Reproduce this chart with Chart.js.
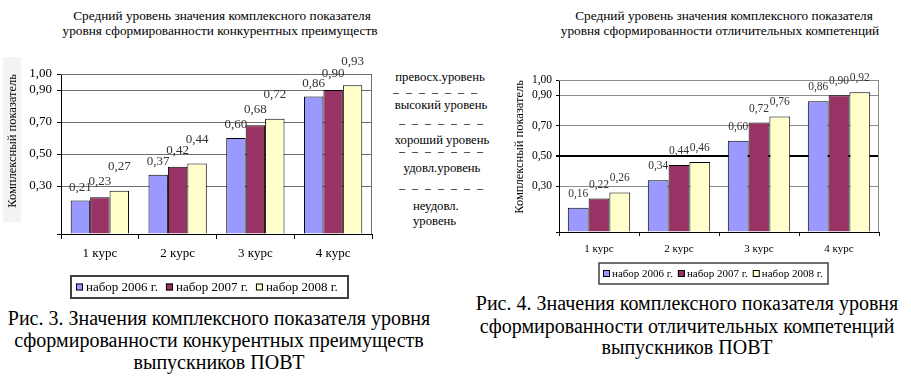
<!DOCTYPE html>
<html lang="ru">

<head>
    <meta charset="UTF-8">
    <title>Комплексный показатель ПОВТ</title>
    <script src="https://cdn.jsdelivr.net/npm/chart.js"></script>
    <style>
        body {
            margin: 0;
            width: 911px;
            height: 384px;
            position: relative;
            overflow: hidden;
            background: #fff;
            font-family: "Liberation Serif", "DejaVu Serif", serif;
            color: #000;
        }

        .txt {
            position: absolute;
            white-space: nowrap;
            transform: translate(-50%, -50%);
        }

        .titulo {
            font-size: 13.3px;
        }

        .nivel {
            font-size: 12.7px;
        }

        .tracos {
            font-size: 12px;
            letter-spacing: 2px;
        }

        .legenda {
            font-size: 20px;
        }

        canvas {
            position: absolute;
        }

        .fundoEixo {
            position: absolute;
            left: 3px;
            top: 57px;
            width: 18px;
            height: 165px;
            background: #f3f3f3;
        }
    </style>
</head>

<body>
    <div class="fundoEixo"></div>

    <!-- titulos dos graficos -->
    <div class="txt titulo" style="left:222px; top:16px">Средний уровень значения комплексного показателя</div>
    <div class="txt titulo" style="left:220px; top:31px">уровня сформированности конкурентных преимуществ</div>
    <div class="txt titulo" style="left:724px; top:16px">Средний уровень значения комплексного показателя</div>
    <div class="txt titulo" style="left:720px; top:31px">уровня сформированности отличительных компетенций</div>

    <!-- niveis entre os graficos -->
    <div class="txt nivel" style="left:440px; top:77px">превосх.уровень</div>
    <div class="txt tracos" style="left:436px; top:92px">– – – – – – –</div>
    <div class="txt nivel" style="left:441px; top:105px">высокий уровень</div>
    <div class="txt tracos" style="left:442px; top:123px">– – – – – – –</div>
    <div class="txt nivel" style="left:442px; top:140px">хороший уровень</div>
    <div class="txt tracos" style="left:442px; top:151px">– – – – – – –</div>
    <div class="txt nivel" style="left:442px; top:168px">удовл.уровень</div>
    <div class="txt tracos" style="left:442px; top:188px">– – – – – – –</div>
    <div class="nivel" style="position:absolute; left:413px; top:199px; line-height:15px">неудовл.<br>уровень</div>

    <canvas id="graficoKonkur" width="380" height="250" style="left:0px; top:55px"></canvas>
    <canvas id="graficoOtlich" width="440" height="235" style="left:460px; top:55px"></canvas>

    <!-- legendas das figuras -->
    <div class="txt legenda" style="left:219px; top:318px">Рис. 3. Значения комплексного показателя уровня</div>
    <div class="txt legenda" style="left:219px; top:340px">сформированности конкурентных преимуществ</div>
    <div class="txt legenda" style="left:219px; top:362px">выпускников ПОВТ</div>
    <div class="txt legenda" style="left:687px; top:303px">Рис. 4. Значения комплексного показателя уровня</div>
    <div class="txt legenda" style="left:687px; top:326px">сформированности отличительных компетенций</div>
    <div class="txt legenda" style="left:687px; top:347px">выпускников ПОВТ</div>
</body>
<script>

    const cursos = ['1 курс', '2 курс', '3 курс', '4 курс'];
    const nabory = ['набор 2006 г.', 'набор 2007 г.', 'набор 2008 г.'];

    // Рис. 3 - конкурентные преимущества
    const konkur2006 = [0.21, 0.37, 0.60, 0.86];
    const konkur2007 = [0.23, 0.42, 0.68, 0.90];
    const konkur2008 = [0.27, 0.44, 0.72, 0.93];

    // Рис. 4 - отличительные компетенции
    const otlich2006 = [0.16, 0.34, 0.60, 0.86];
    const otlich2007 = [0.22, 0.44, 0.72, 0.90];
    const otlich2008 = [0.26, 0.46, 0.76, 0.92];

    const marcasY = [0.3, 0.5, 0.7, 0.9, 1.0];
    const tituloY = 'Комплексный показатель';

    const cores = ['#9999FF', '#993366', '#FFFFCC'];
    const fonteSerif = '"Liberation Serif", "DejaVu Serif", serif';

    function numero(v) {
        return v.toFixed(2).replace('.', ',');
    }

    function marcaVisivel(valor) {
        return marcasY.includes(Math.round(valor * 100) / 100);
    }

    function montarDados(series) {
        return {
            labels: cursos,
            datasets: series.map(function (dados, i) {
                return {
                    label: nabory[i],
                    data: dados,
                    backgroundColor: cores[i],
                    borderColor: '#000',
                    borderWidth: 1,
                    borderSkipped: 'bottom'
                };
            })
        };
    }

    // valores acima das barras
    function criarRotulos(fonte, cor, deslocamentos) {
        return {
            id: 'rotulos',
            afterDatasetsDraw(chart) {
                const ctx = chart.ctx;
                ctx.save();
                ctx.font = fonte;
                ctx.fillStyle = cor;
                ctx.textAlign = 'center';
                ctx.textBaseline = 'middle';
                chart.data.datasets.forEach(function (ds, i) {
                    chart.getDatasetMeta(i).data.forEach(function (barra, j) {
                        ctx.fillText(numero(ds.data[j]), barra.x, barra.y - deslocamentos[i]);
                    });
                });
                ctx.restore();
            }
        };
    }

    // moldura superior e direita da area do grafico
    function criarMoldura(cor, largura) {
        return {
            id: 'moldura',
            beforeDatasetsDraw(chart) {
                const a = chart.chartArea;
                const ctx = chart.ctx;
                ctx.save();
                ctx.strokeStyle = cor;
                ctx.lineWidth = largura;
                ctx.beginPath();
                ctx.moveTo(a.left, a.top + 0.5);
                ctx.lineTo(a.right - 0.5, a.top + 0.5);
                ctx.lineTo(a.right - 0.5, a.bottom);
                ctx.stroke();
                ctx.restore();
            }
        };
    }

    // legenda com caixa, como no original
    function criarLegenda(caixa, fonte, lado, folga, espaco) {
        return {
            id: 'legendaCaixa',
            afterDraw(chart) {
                const ctx = chart.ctx;
                ctx.save();
                ctx.strokeStyle = '#404040';
                ctx.lineWidth = caixa.borda;
                ctx.strokeRect(caixa.x, caixa.y, caixa.w, caixa.h);
                ctx.font = fonte;
                ctx.textBaseline = 'middle';
                ctx.textAlign = 'left';
                let x = caixa.x + caixa.pad;
                const yc = caixa.y + caixa.h / 2;
                chart.data.datasets.forEach(function (ds) {
                    ctx.fillStyle = ds.backgroundColor;
                    ctx.fillRect(x, yc - lado / 2, lado, lado);
                    ctx.strokeStyle = '#000';
                    ctx.lineWidth = 1;
                    ctx.strokeRect(x + 0.5, yc - lado / 2 + 0.5, lado - 1, lado - 1);
                    ctx.fillStyle = '#000';
                    ctx.fillText(ds.label, x + lado + folga, yc + 1);
                    x += lado + folga + ctx.measureText(ds.label).width + espaco;
                });
                ctx.restore();
            }
        };
    }

    function opcoesEscalas(p) {
        return {
            x: {
                afterFit: function (scale) { scale.height = p.alturaX; },
                grid: {
                    drawOnChartArea: false,
                    drawTicks: true,
                    tickLength: p.tickX,
                    color: '#000'
                },
                border: { color: '#000', width: 1 },
                ticks: {
                    padding: p.padX,
                    color: '#000',
                    font: { family: fonteSerif, size: p.fonteX }
                }
            },
            y: {
                min: 0,
                max: 1,
                afterFit: function (scale) { scale.width = p.larguraY; },
                title: {
                    display: true,
                    text: tituloY,
                    align: 'end',
                    color: '#000',
                    padding: { top: p.padTitulo, bottom: 0 },
                    font: { family: fonteSerif, size: 12.5 }
                },
                grid: {
                    tickLength: p.tickY,
                    color: function (c) {
                        if (!marcaVisivel(c.tick.value)) return 'rgba(0,0,0,0)';
                        return Math.round(c.tick.value * 100) === 50 ? p.corMeio : p.corGrade;
                    },
                    lineWidth: function (c) {
                        return Math.round(c.tick.value * 100) === 50 ? p.larguraMeio : 1;
                    },
                    tickColor: function (c) {
                        return (marcaVisivel(c.tick.value) || c.tick.value === 0) ? '#000' : 'rgba(0,0,0,0)';
                    }
                },
                border: { color: '#000', width: 1 },
                ticks: {
                    stepSize: 0.1,
                    autoSkip: false,
                    padding: p.padY,
                    color: '#000',
                    font: { family: fonteSerif, size: p.fonteY },
                    callback: function (valor) {
                        return marcaVisivel(valor) ? numero(Math.round(valor * 100) / 100) : '';
                    }
                }
            }
        };
    }

    new Chart(document.getElementById('graficoKonkur'), {
        type: 'bar',
        data: montarDados([konkur2006, konkur2007, konkur2008]),
        options: {
            responsive: false,
            animation: false,
            devicePixelRatio: 1,
            categoryPercentage: 0.75,
            barPercentage: 1,
            layout: { padding: { left: 0, top: 19, right: 8, bottom: 0 } },
            plugins: { legend: { display: false }, tooltip: { enabled: false } },
            scales: opcoesEscalas({
                alturaX: 71, tickX: 5, padX: 7, fonteX: 13,
                larguraY: 61, tickY: 4, padY: 5, fonteY: 13, padTitulo: 5,
                corGrade: '#707070', corMeio: '#707070', larguraMeio: 1
            })
        },
        plugins: [
            criarMoldura('#707070', 1),
            criarRotulos('13px ' + fonteSerif, '#333', [13, 16, 24]),
            criarLegenda({ x: 71, y: 221, w: 277, h: 22, pad: 5, borda: 2 }, '13px ' + fonteSerif, 7, 3, 8)
        ]
    });

    new Chart(document.getElementById('graficoOtlich'), {
        type: 'bar',
        data: montarDados([otlich2006, otlich2007, otlich2008]),
        options: {
            responsive: false,
            animation: false,
            devicePixelRatio: 1,
            categoryPercentage: 0.78,
            barPercentage: 1,
            layout: { padding: { left: 0, top: 25, right: 21, bottom: 0 } },
            plugins: { legend: { display: false }, tooltip: { enabled: false } },
            scales: opcoesEscalas({
                alturaX: 58, tickX: 4, padX: 7, fonteX: 11,
                larguraY: 99, tickY: 3, padY: 4, fonteY: 11.5, padTitulo: 52,
                corGrade: '#8c8c8c', corMeio: '#000', larguraMeio: 2
            })
        },
        plugins: [
            criarMoldura('#8c8c8c', 1),
            criarRotulos('11.5px ' + fonteSerif, '#333', [14, 14, 14]),
            criarLegenda({ x: 139, y: 208, w: 229, h: 21, pad: 4, borda: 1.5 }, '11px ' + fonteSerif, 7, 2, 5)
        ]
    });

</script>

</html>
